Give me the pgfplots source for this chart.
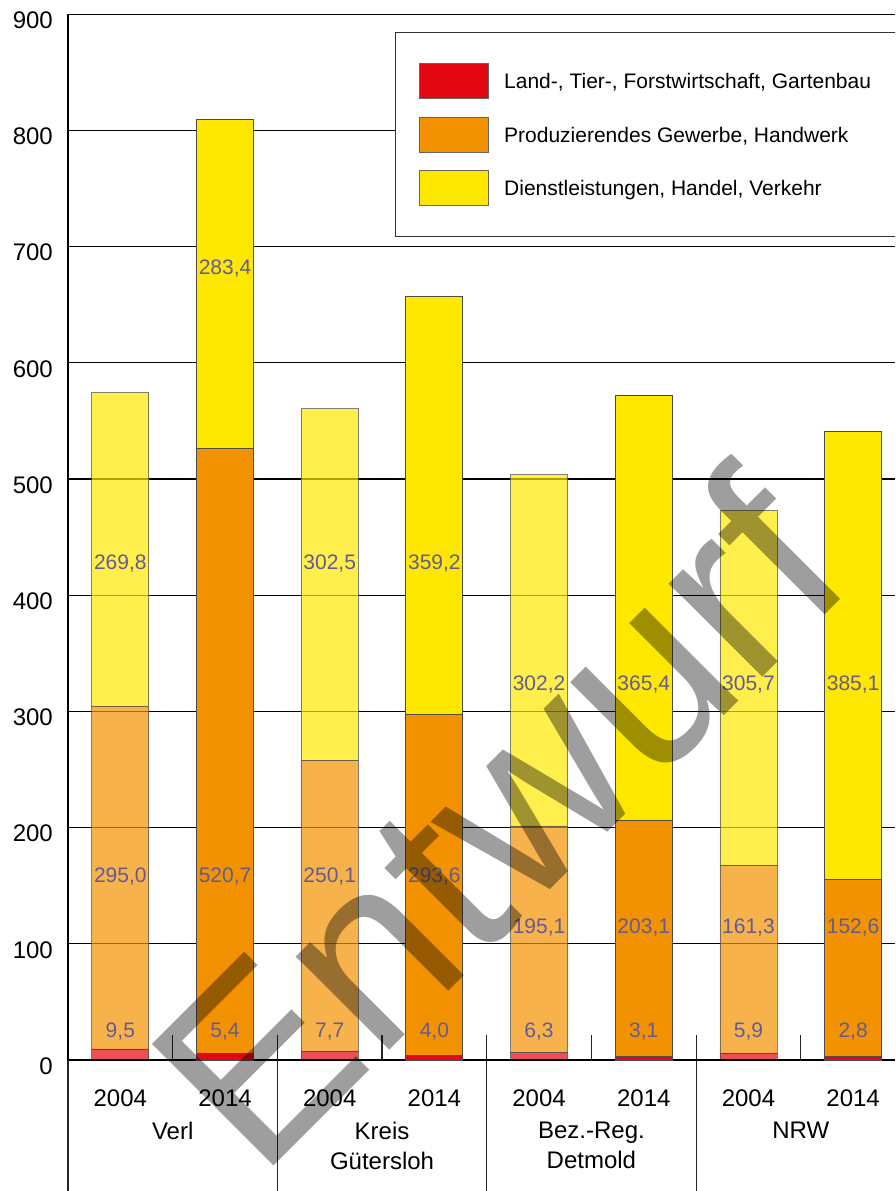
\documentclass[border=0pt]{standalone}
\usepackage{fontspec}
\setmainfont{Liberation Sans}
\usepackage{pgfplots}
\usepackage{pgfplotstable}
\pgfplotsset{compat=1.18}

\definecolor{landrot}{RGB}{227,6,19}
\definecolor{gewerbe}{RGB}{243,146,0}
\definecolor{dienst}{RGB}{255,232,0}
\definecolor{wertfarbe}{RGB}{100,92,145}

% Erwerbstaetige je Sektor (2004 bei x = 0,2,4,6; 2014 bei x = 1,3,5,7)
\pgfplotstableread{
x  land  gewerbe  dienst
0  9.5   295.0    269.8
2  7.7   250.1    302.5
4  6.3   195.1    302.2
6  5.9   161.3    305.7
}\jahrA
\pgfplotstableread{
x  land  gewerbe  dienst
1  5.4   520.7    283.4
3  4.0   293.6    359.2
5  3.1   203.1    365.4
7  2.8   152.6    385.1
}\jahrB
% Lage der Wertbeschriftungen
\pgfplotstableread{
x  y      lab
0  427.6  269,8
0  158.3  295,0
0  24.1   9,5
1  681.5  283,4
1  158.3  520,7
1  24.1   5,4
2  427.6  302,5
2  158.3  250,1
2  24.1   7,7
3  427.6  359,2
3  158.3  293,6
3  24.1   4,0
4  323.5  302,2
4  114.4  195,1
4  24.1   6,3
5  323.5  365,4
5  114.4  203,1
5  24.1   3,1
6  323.5  305,7
6  114.4  161,3
6  24.1   5,9
7  323.5  385,1
7  114.4  152,6
7  24.1   2,8
}\werte

\pgfplotsset{
  rahmen/.style={
    scale only axis, width=827pt, height=1046pt,
    at={(68pt,-1060pt)}, anchor=south west,
    xmin=-0.5, xmax=7.4, ymin=0, ymax=900,
  },
  feld/.style={
    legend image code/.code={\draw[##1, draw=black!60, line width=0.8pt] (0pt,-17pt) rectangle (69pt,18pt);}
  },
}

\begin{document}
\begin{tikzpicture}[x=1pt,y=1pt]
\useasboundingbox (0,0) rectangle (895,-1191);
\clip (0,0) rectangle (895,-1191);

% Gitter, Balken 2004 und Gruppennamen
\begin{axis}[rahmen,
  ybar stacked, bar width=57pt,
  axis line style={draw=none},
  ymajorgrids, major grid style={black, line width=1.2pt},
  ytick={0,100,...,900}, yticklabels={},
  xtick={0.5,2.5,4.5,6.5},
  xticklabels={Verl,{Kreis\\Gütersloh},{Bez.-Reg.\\Detmold},NRW},
  xticklabel style={align=center, anchor=north, inner sep=0pt, yshift=-62pt,
    font=\fontsize{24}{30}\selectfont},
  major tick length=0pt,
]
\addplot[fill=landrot, draw=black!70, line width=0.8pt, opacity=0.7] table[x=x,y=land] {\jahrA};
\addplot[fill=gewerbe, draw=black!70, line width=0.8pt, opacity=0.7] table[x=x,y=gewerbe] {\jahrA};
\addplot[fill=dienst, draw=black!70, line width=0.8pt, opacity=0.7] table[x=x,y=dienst] {\jahrA};
\end{axis}

% Balken 2014, Achsen, Jahre und Legende
\begin{axis}[rahmen,
  ybar stacked, bar width=57pt,
  axis lines*=left,
  axis line style={black, line width=1.5pt},
  ytick={0,100,...,900},
  yticklabel style={anchor=east, inner sep=0pt, xshift=-15pt, yshift=-6pt,
    font=\fontsize{24}{29}\selectfont},
  /pgf/number format/assume math mode=true,
  xtick={0,...,7},
  xticklabels={2004,2014,2004,2014,2004,2014,2004,2014},
  xticklabel style={anchor=north, inner sep=0pt, yshift=-30pt,
    font=\fontsize{24}{29}\selectfont},
  major tick length=0pt,
  minor xtick={0.5,1.5,...,6.5},
  minor tick length=25pt,
  tick align=inside,
  tick style={black!85, line width=1.2pt},
  extra x ticks={-0.5,1.5,3.5,5.5},
  extra x tick labels={},
  extra x tick style={tick align=outside, major tick length=131pt},
  legend style={at={(0.3954,0.9828)}, anchor=north west,
    draw=black!80, line width=0.8pt, fill=white,
    inner xsep=24pt, inner ysep=31pt,
    row sep=17.5pt, column sep=15pt,
    nodes={inner sep=0pt},
    font=\fontsize{21}{25}\selectfont},
  legend cell align=left,
]
\addplot[feld, fill=landrot, draw=black!70, line width=0.8pt] table[x=x,y=land] {\jahrB};
\addplot[feld, fill=gewerbe, draw=black!70, line width=0.8pt] table[x=x,y=gewerbe] {\jahrB};
\addplot[feld, fill=dienst, draw=black!70, line width=0.8pt] table[x=x,y=dienst] {\jahrB};
\legend{{Land-, Tier-, Forstwirtschaft, Gartenbau\hspace*{30pt}},
  {Produzierendes Gewerbe, Handwerk},
  {Dienstleistungen, Handel, Verkehr}}
\end{axis}

% Wertbeschriftungen
\begin{axis}[rahmen, hide axis, clip=false]
\addplot[only marks, mark=none,
  nodes near coords, point meta=explicit symbolic,
  nodes near coords style={anchor=center, inner sep=0pt, text=wertfarbe,
    font=\fontsize{21}{25}\selectfont}]
  table[x=x, y=y, meta=lab] {\werte};
\end{axis}

% Wasserzeichen
\node[rotate=45, anchor=base west, inner sep=0pt, text=black, text opacity=0.38,
  font=\fontsize{250}{250}\selectfont] at (259,-1181) {Entwurf};
\end{tikzpicture}
\end{document}
